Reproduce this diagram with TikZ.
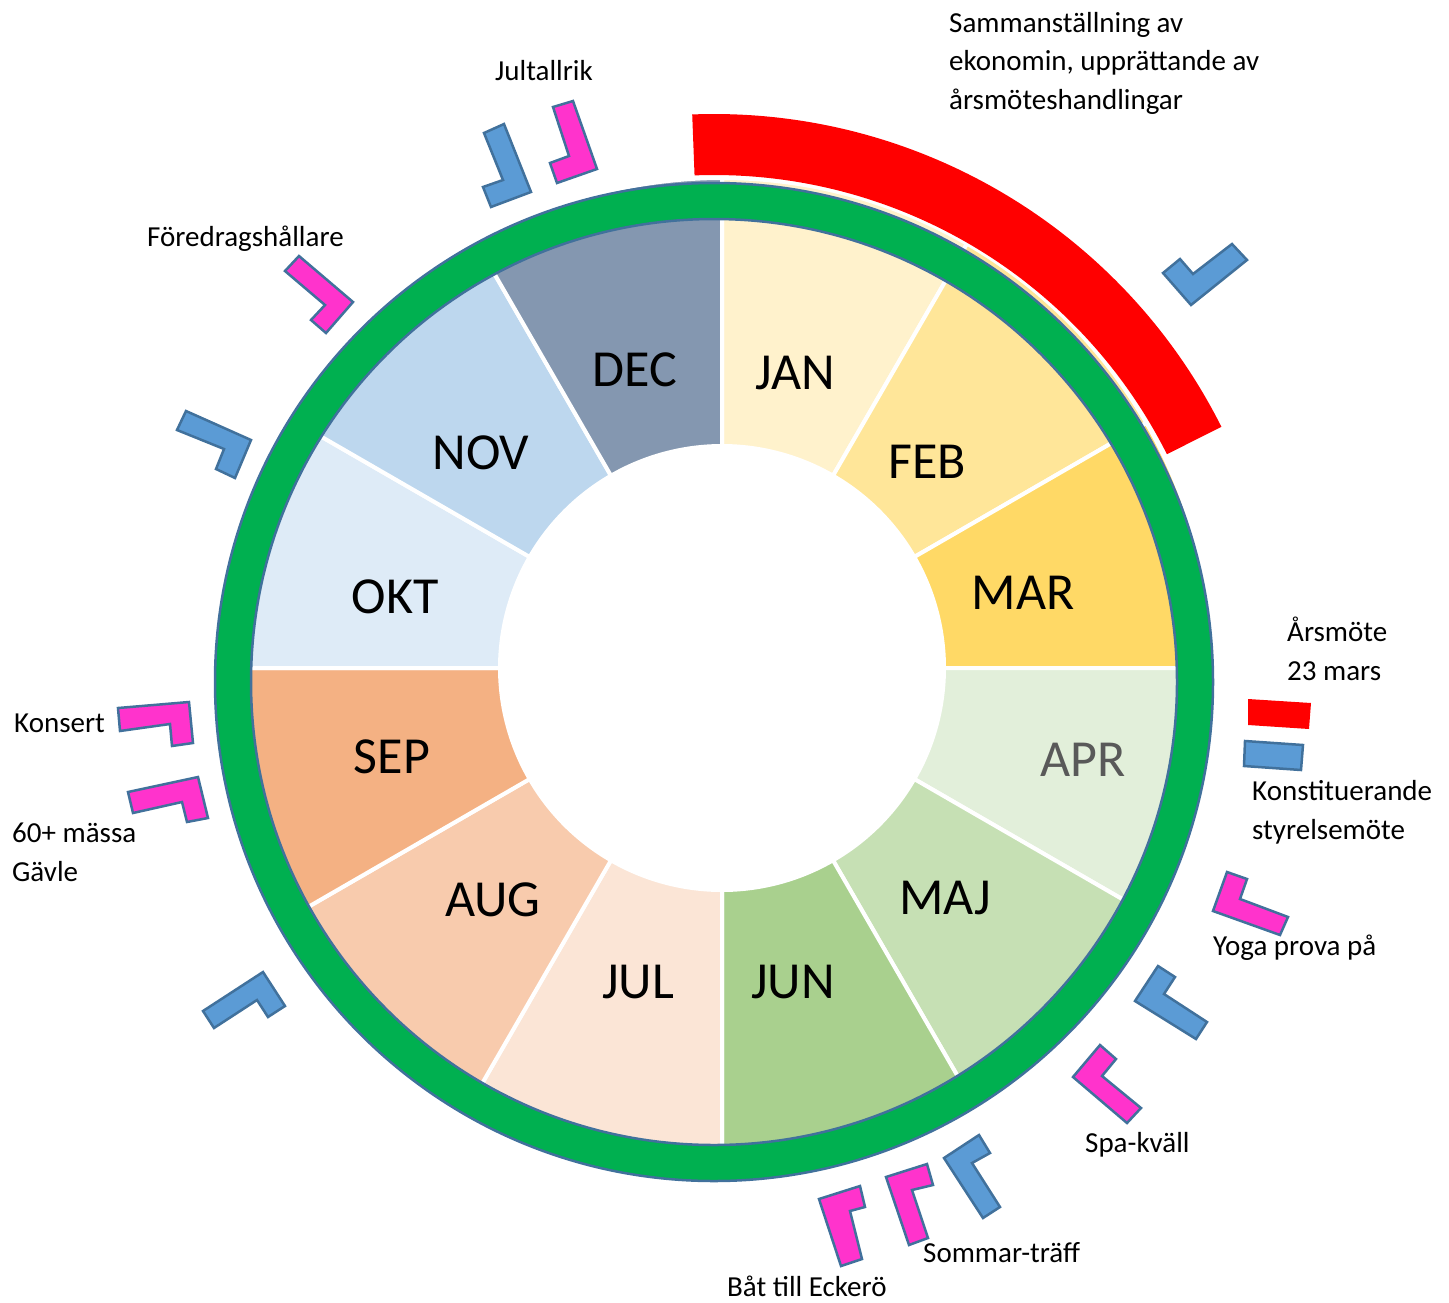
\documentclass[tikz,border=0pt]{standalone}
\usepackage{fontspec}
\setmainfont{Carlito}
\usetikzlibrary{calc}

\definecolor{janc}{HTML}{FFF2CC}
\definecolor{febc}{HTML}{FFE699}
\definecolor{marc}{HTML}{FFD966}
\definecolor{aprc}{HTML}{E2EFDA}
\definecolor{majc}{HTML}{C6E0B4}
\definecolor{junc}{HTML}{A9D08E}
\definecolor{julc}{HTML}{FBE5D6}
\definecolor{augc}{HTML}{F8CBAD}
\definecolor{sepc}{HTML}{F4B183}
\definecolor{oktc}{HTML}{DEEBF7}
\definecolor{novc}{HTML}{BDD7EE}
\definecolor{decc}{HTML}{8497B0}
\definecolor{ringgreen}{HTML}{00B050}
\definecolor{edgeblue}{HTML}{41719C}
\definecolor{markpink}{HTML}{FF33CC}
\definecolor{markblue}{HTML}{5B9BD5}
\definecolor{aprtext}{HTML}{595959}

\tikzset{
  seg/.style={draw=white, line width=4pt},
  month/.style={font=\fontsize{52}{60}\selectfont, inner sep=0pt},
  note/.style={font=\fontsize{29}{38.5}\selectfont, align=left, anchor=base west, inner sep=0pt},
  pinkmark/.style={fill=markpink, draw=edgeblue, line width=2.5pt},
  bluemark/.style={fill=markblue, draw=edgeblue, line width=2.5pt},
}

\begin{document}
\begin{tikzpicture}[x=1pt, y=-1pt]
\useasboundingbox (0,0) rectangle (1449,1302);
\coordinate (P) at (722,668);
\coordinate (RC) at (714,682);

% month segments
\foreach \col [count=\i from 0] in {janc,febc,marc,aprc,majc,junc,julc,augc,sepc,oktc,novc,decc}{
  \pgfmathsetmacro\aa{-90+30*\i}
  \pgfmathsetmacro\ab{-60+30*\i}
  \filldraw[seg, fill=\col] ($(P)+(\aa:222)$) -- ($(P)+(\aa:490)$)
    arc[start angle=\aa, end angle=\ab, radius=490] -- ($(P)+(\ab:222)$)
    arc[start angle=\ab, end angle=\aa, radius=222] -- cycle;
}

% green ring
\filldraw[fill=ringgreen, draw=edgeblue, line width=2.5pt, even odd rule]
  (RC) circle[radius=499] (RC) circle[radius=463];

% red period
\fill[red] ($(RC)+(-92.2:568)$) arc[start angle=-92.2, end angle=-26.7, radius=568]
  -- ($(RC)+(-26.7:507)$) arc[start angle=-26.7, end angle=-92.2, radius=507] -- cycle;

% month labels
\foreach \name/\px/\py in {JAN/795/373, FEB/927/462, MAR/1023/593, MAJ/945/898,
  JUN/793/982, JUL/638/982, AUG/493/900, SEP/392/757, OKT/395/597, NOV/481/453, DEC/635/370}
  \node[month] (m\name) at (\px,\py) {\name};
\node[month, text=aprtext] (mAPR) at (1083,760) {APR};

% markers
\draw[bluemark] (484,133) -- (504,124) -- (531,192) -- (491,207) -- (483,187) -- (503,180) -- cycle;
\draw[pinkmark] (553,107) -- (573,101) -- (597,169) -- (557,183) -- (550,163) -- (569,156) -- cycle;
\draw[pinkmark] (285,271) -- (299,256) -- (353,302) -- (326,333) -- (311,320) -- (325,305) -- cycle;
\draw[bluemark] (177,430) -- (186,411) -- (251,440) -- (235,478) -- (216,469) -- (224,449) -- cycle;
\draw[bluemark] (1163,273) -- (1180,259) -- (1193,274) -- (1232,244) -- (1247,260) -- (1191,305) -- cycle;
\fill[red] (1248,699) -- (1311,703) -- (1309,729) -- (1248,725) -- cycle;
\draw[bluemark] (1245,741) -- (1303,745) -- (1301,770) -- (1244,766) -- cycle;
\draw[pinkmark] (1227,872) -- (1247,879) -- (1240,899) -- (1288,917) -- (1280,935) -- (1213,911) -- cycle;
\draw[bluemark] (1158,966) -- (1175,977) -- (1164,994) -- (1207,1022) -- (1196,1039) -- (1135,1001) -- cycle;
\draw[pinkmark] (1100,1045) -- (1116,1059) -- (1102,1076) -- (1141,1108) -- (1127,1123) -- (1073,1077) -- cycle;
\draw[bluemark] (944,1158) -- (979,1135) -- (990,1153) -- (972,1163) -- (1000,1207) -- (983,1218) -- cycle;
\draw[pinkmark] (886,1177) -- (927,1164) -- (933,1185) -- (912,1190) -- (928,1238) -- (909,1245) -- cycle;
\draw[pinkmark] (819,1199) -- (860,1186) -- (865,1207) -- (850,1211) -- (862,1259) -- (841,1266) -- cycle;
\draw[bluemark] (203,1011) -- (263,972) -- (285,1006) -- (268,1017) -- (257,1000) -- (214,1028) -- cycle;
\draw[pinkmark] (118,708) -- (189,702) -- (193,743) -- (172,746) -- (170,724) -- (120,731) -- cycle;
\draw[pinkmark] (128,792) -- (198,777) -- (208,818) -- (187,822) -- (182,802) -- (133,813) -- cycle;

% notes (multi-line: base is the last line)
\node[note] (summ) at (949,109) {Sammanställning av\\ekonomin, upprättande av\\årsmöteshandlingar};
\node[note] (jul) at (495,80) {Jultallrik};
\node[note] (fored) at (147,246) {Föredragshållare};
\node[note] (arsm) at (1287,680) {Årsmöte\\23 mars};
\node[note] (konst) at (1252,839) {Konstituerande\\styrelsemöte};
\node[note] (yoga) at (1213,955) {Yoga prova på};
\node[note] (spa) at (1085,1152) {Spa-kväll};
\node[note] (sommar) at (923,1262) {Sommar-träff};
\node[note] (bat) at (727,1296) {Båt till Eckerö};
\node[note] (konsert) at (14,732) {Konsert};
\node[note] (massa) at (12,881) {60+ mässa\\Gävle};
\end{tikzpicture}
\end{document}
